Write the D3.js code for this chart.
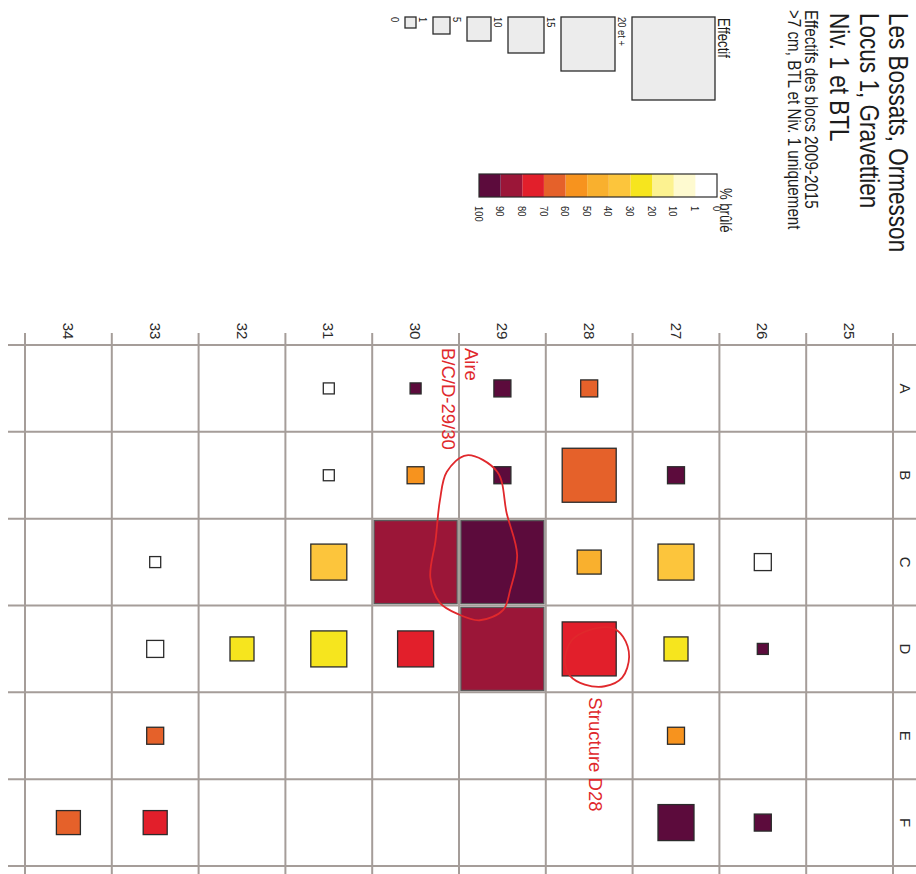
<!DOCTYPE html>
<html><head><meta charset="utf-8">
<script src="https://cdn.jsdelivr.net/npm/d3@7"></script>
<style>body{margin:0;background:#fff} svg{display:block}</style>
</head><body><svg id="c" width="916" height="874"></svg>
<script>
// ---------- data ----------
const rows = ["A","B","C","D","E","F"];
const cols = [34,33,32,31,30,29,28,27,26,25];
const cellRow  = ["A","A","A","A", "B","B","B","B","B", "C","C","C","C","C","C","C", "D","D","D","D","D","D","D","D", "E","E", "F","F","F","F"];
const cellCol  = [31,30,29,28, 31,30,29,28,27, 33,31,30,29,28,27,26, 33,32,31,30,29,28,27,26, 33,27, 34,33,27,26];
const effectif = [0,0,1,1, 0,1,1,15,1, 0,10,20,20,5,10,1, 1,5,10,10,20,15,5,0, 1,1, 5,5,10,1];
const brule    = [0,95,95,65, 0,55,95,65,95, 0,35,85,95,45,35,0, 0,25,25,75,85,75,25,95, 65,55, 65,75,95,95];
const sizeBreaks = [0,1,5,10,15,20];
const sizeLabels = ["0","1","5","10","15","20 et +"];
const pctTicks = [0,1,10,20,30,40,50,60,70,80,90,100];
const pctColors = ["#ffffff","#fefad0","#fcf290","#f6e51e","#fcc53c","#f9b02e","#f7931e","#e5612a","#e21f2b","#9b1638","#5c0b3c"];
const titleLines = ["Les Bossats, Ormesson","Locus 1, Gravettien","Niv. 1 et BTL"];
const subtitleLines = ["Effectifs des blocs 2009-2015", ">7 cm, BTL et Niv. 1 uniquement"];
const sizeTitle = "Effectif";
const colorTitle = "% brûlé";
const aireLabel = ["Aire","B/C/D-29/30"];
const structureLabel = "Structure D28";
// annotation outlines, in grid units [column, row index]
const aireOutline = [[29.41,0.77],[29.06,0.96],[28.95,1.44],[28.83,1.92],[28.91,2.32],[28.99,2.55],[29.26,2.67],[29.51,2.60],[29.72,2.47],[29.83,2.18],[29.77,1.75],[29.72,1.29],[29.64,0.96]];
const structureOutline = [[27.73,2.76],[27.61,2.86],[27.54,3.09],[27.62,3.33],[27.82,3.43],[28.05,3.41],[28.22,3.31],[28.28,3.13],[28.20,2.90],[27.99,2.78]];

// ---------- setup ----------
const svg = d3.select("#c");
const SANS = "'Liberation Sans',Arial,Helvetica,sans-serif";
const INK = "#1c1c1c", GRID = "#a59d99", RED = "#e0282c";
const NARROW_K = 0.82;

const x = d3.scaleBand().domain(cols).range([25, 893]);
const y = d3.scaleBand().domain(rows).range([345, 866]);
const xl = d3.scaleLinear().domain([34.5, 24.5]).range([25, 893]);
const yl = d3.scaleLinear().domain([-0.5, 5.5]).range([345, 866]);
const size = d3.scaleLinear().domain(sizeBreaks).range([11, 17, 24, 36, 54, 83]).clamp(true);
const color = d3.scaleThreshold().domain(pctTicks.slice(1, -1)).range(pctColors);

function rtext(g, px, py, txt, k = 1) {
  return g.append("text").attr("transform", `translate(${px},${py}) rotate(90) scale(${k},1)`)
    .attr("font-family", SANS).text(txt);
}

// ---------- grid ----------
const grid = svg.append("g").attr("stroke", GRID).attr("stroke-width", 2);
const xb = cols.map(c => x(c)).concat([x.range()[1]]);
const yb = rows.map(r => y(r)).concat([y.range()[1]]);
grid.selectAll("line.v").data(xb).join("line")
  .attr("x1", d => d).attr("x2", d => d).attr("y1", y.range()[0] - 12).attr("y2", 874);
grid.selectAll("line.h").data(yb).join("line")
  .attr("y1", d => d).attr("y2", d => d).attr("x1", 8).attr("x2", 916);

// axis labels
const ax = svg.append("g").attr("font-size", 15).attr("fill", "#2a2a2a");
cols.forEach(c => rtext(ax, x(c) + x.bandwidth() / 2, 331, c).attr("text-anchor", "middle").attr("dominant-baseline", "central"));
rows.forEach(r => rtext(ax, 905, y(r) + y.bandwidth() / 2, r).attr("text-anchor", "middle").attr("dominant-baseline", "central"));

// ---------- cells ----------
const cells = cellRow.map((r, i) => ({ r, c: cellCol[i], n: effectif[i], p: brule[i] }));
svg.append("g").selectAll("rect").data(cells).join("rect")
  .attr("x", d => x(d.c) + x.bandwidth() / 2 - size(d.n) / 2)
  .attr("y", d => y(d.r) + y.bandwidth() / 2 - size(d.n) / 2)
  .attr("width", d => size(d.n)).attr("height", d => size(d.n))
  .attr("fill", d => color(d.p))
  .attr("stroke", d => size(d.n) > 70 ? "#5a5a5a" : "#2b2b2b")
  .attr("stroke-width", 1.3);

// ---------- annotations ----------
const line = d3.line().x(d => xl(d[0])).y(d => yl(d[1])).curve(d3.curveCatmullRomClosed);
const ann = svg.append("g");
ann.append("path").attr("d", line(aireOutline)).attr("fill", "none").attr("stroke", RED).attr("stroke-width", 1.8);
ann.append("path").attr("d", line(structureOutline)).attr("fill", "none").attr("stroke", RED).attr("stroke-width", 1.8);
const annT = ann.append("g").attr("font-size", 18.5).attr("fill", RED);
rtext(annT, xl(29.5) + 6, y("A") + 3, aireLabel[0]);
rtext(annT, xl(29.5) - 17, y("A") + 3, aireLabel[1]);
rtext(annT, xl(28), y("E") + 5, structureLabel);

// ---------- titles ----------
const tg = svg.append("g").attr("fill", INK);
titleLines.forEach((t, i) => rtext(tg, 889 - i * 29.5, 13, t, NARROW_K).attr("font-size", 27.5));
subtitleLines.forEach((t, i) => rtext(tg, 805 - i * 17, 10, t, NARROW_K).attr("font-size", 18.5));

// ---------- size legend ----------
const lg = svg.append("g");
rtext(lg, 718, 18, sizeTitle, NARROW_K).attr("font-size", 16).attr("fill", INK);
let right = 715;
sizeBreaks.slice().reverse().forEach((v, i) => {
  const s = size(v);
  lg.append("rect").attr("x", right - s).attr("y", 17).attr("width", s).attr("height", s)
    .attr("fill", "#ececec").attr("stroke", "#2b2b2b").attr("stroke-width", 1.3);
  rtext(lg, right - s - 5, 17, sizeLabels[sizeLabels.length - 1 - i], NARROW_K)
    .attr("font-size", 11.5).attr("fill", INK)
    .attr("dominant-baseline", "hanging");
  right = right - s - 17;
});

// ---------- colour legend ----------
const cg = svg.append("g");
rtext(cg, 720, 188, colorTitle, NARROW_K).attr("font-size", 16).attr("fill", INK);
const pos = d3.scalePoint().domain(pctTicks).range([717, 479]);
cg.selectAll("rect.seg").data(pctTicks.slice(0, -1)).join("rect")
  .attr("x", (d, i) => pos(pctTicks[i + 1])).attr("y", 174)
  .attr("width", (d, i) => pos(d) - pos(pctTicks[i + 1])).attr("height", 23)
  .attr("fill", d => color(d));
cg.append("rect").attr("x", 479).attr("y", 174).attr("width", 238).attr("height", 23)
  .attr("fill", "none").attr("stroke", "#2b2b2b").attr("stroke-width", 1.2);
pctTicks.forEach(t => rtext(cg, pos(t), 206, t, NARROW_K).attr("font-size", 11.5)
  .attr("fill", INK).attr("dominant-baseline", "central"));
</script></body></html>
